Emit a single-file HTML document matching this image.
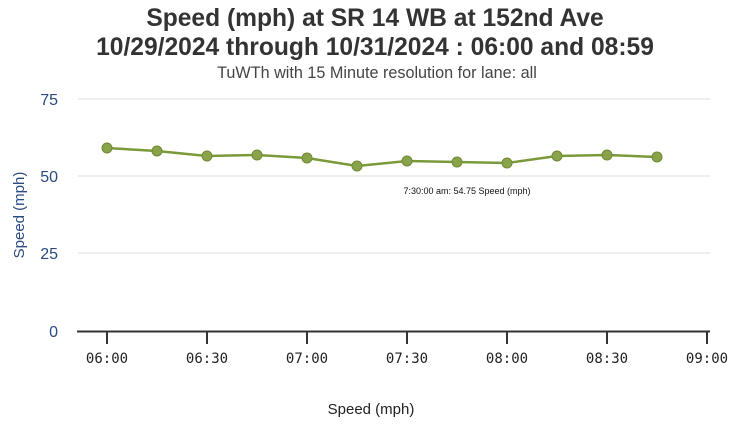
<!DOCTYPE html>
<html><head><meta charset="utf-8"><style>
body{margin:0;background:#fff;}
svg text{font-family:"Liberation Sans",sans-serif;}
</style></head><body>
<svg width="750" height="434" xmlns="http://www.w3.org/2000/svg">
<text x="375" y="26" text-anchor="middle" font-size="24.6" font-weight="bold" fill="#333">Speed (mph) at SR 14 WB at 152nd Ave</text>
<text x="375" y="55" text-anchor="middle" font-size="24.6" font-weight="bold" fill="#333">10/29/2024 through 10/31/2024 : 06:00 and 08:59</text>
<text x="377" y="78" text-anchor="middle" font-size="16.2" fill="#444">TuWTh with 15 Minute resolution for lane: all</text>
<g stroke="#ddd" stroke-width="1">
<line x1="78" y1="99" x2="710" y2="99"/><line x1="78" y1="176" x2="710" y2="176"/><line x1="78" y1="253" x2="710" y2="253"/>
</g>
<g font-size="16" fill="#2a4a80" text-anchor="end">
<text x="58" y="105">75</text><text x="58" y="182">50</text><text x="58" y="259">25</text><text x="58" y="337">0</text>
</g>
<text transform="translate(24,215) rotate(-90)" text-anchor="middle" font-size="15" fill="#2a4a80">Speed (mph)</text>
<line x1="77" y1="331.5" x2="710" y2="331.5" stroke="#333" stroke-width="2"/>
<g stroke="#333" stroke-width="2">
<line x1="107" y1="332" x2="107" y2="344"/><line x1="207" y1="332" x2="207" y2="344"/><line x1="307" y1="332" x2="307" y2="344"/><line x1="407" y1="332" x2="407" y2="344"/><line x1="507" y1="332" x2="507" y2="344"/><line x1="607" y1="332" x2="607" y2="344"/><line x1="707" y1="332" x2="707" y2="344"/>
</g>
<g font-size="14" fill="#222" text-anchor="middle">
<text x="107" y="363" style="font-family:'DejaVu Sans Mono',monospace">06:00</text><text x="207" y="363" style="font-family:'DejaVu Sans Mono',monospace">06:30</text><text x="307" y="363" style="font-family:'DejaVu Sans Mono',monospace">07:00</text><text x="407" y="363" style="font-family:'DejaVu Sans Mono',monospace">07:30</text><text x="507" y="363" style="font-family:'DejaVu Sans Mono',monospace">08:00</text><text x="607" y="363" style="font-family:'DejaVu Sans Mono',monospace">08:30</text><text x="707" y="363" style="font-family:'DejaVu Sans Mono',monospace">09:00</text>
</g>
<text x="371" y="414" text-anchor="middle" font-size="15" fill="#222">Speed (mph)</text>
<polyline fill="none" stroke="#7a9a3a" stroke-width="2.5" points="107,148 157,151 207,156 257,155 307,158 357,166 407,161 457,162 507,163 557,156 607,155 657,157"/>
<g fill="#8aa24a" stroke="#6e8a34" stroke-width="1">
<circle cx="107" cy="148" r="5"/><circle cx="157" cy="151" r="5"/><circle cx="207" cy="156" r="5"/><circle cx="257" cy="155" r="5"/><circle cx="307" cy="158" r="5"/><circle cx="357" cy="166" r="5"/><circle cx="407" cy="161" r="5"/><circle cx="457" cy="162" r="5"/><circle cx="507" cy="163" r="5"/><circle cx="557" cy="156" r="5"/><circle cx="607" cy="155" r="5"/><circle cx="657" cy="157" r="5"/>
</g>
<text x="467" y="194" text-anchor="middle" font-size="9" fill="#111">7:30:00 am: 54.75 Speed (mph)</text>
</svg>
</body></html>
